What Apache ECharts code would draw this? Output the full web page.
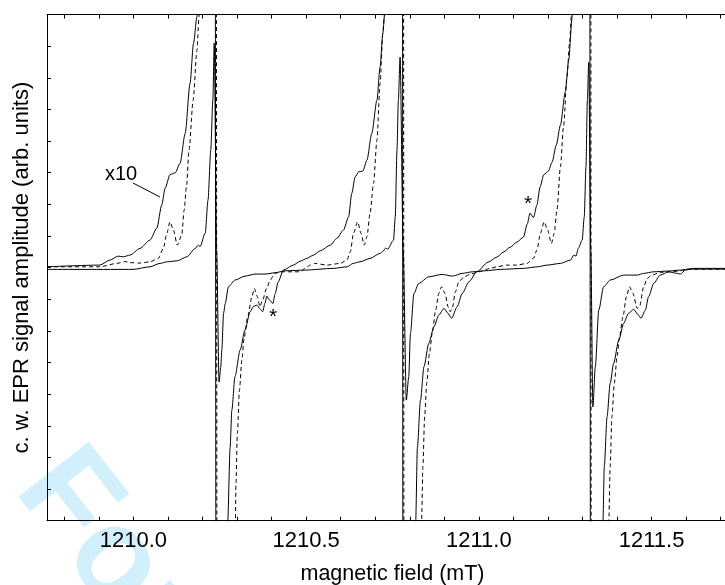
<!DOCTYPE html>
<html><head><meta charset="utf-8">
<script src="https://cdn.jsdelivr.net/npm/echarts@6/dist/echarts.min.js"></script>
<style>html,body{margin:0;padding:0;background:#fff}#c{width:725px;height:585px}</style>
</head><body><div id="c"></div>
<script>
// tick labels and minor tick positions (mT)
const xTickLabels = [1210.0, 1210.5, 1211.0, 1211.5];
const xMinorTicks = [1209.8,1209.9,1210.0,1210.1,1210.2,1210.3,1210.4,1210.5,1210.6,1210.7,1210.8,1210.9,1211.0,1211.1,1211.2,1211.3,1211.4,1211.5,1211.6,1211.7];

// c.w. EPR spectrum, x1 scale (solid)
const spectrumX1 = [
[1209.750,-0.057],[1209.999,-0.057],[1210.048,0.025],[1210.077,0.133],[1210.098,0.183],[1210.127,0.215],[1210.155,0.341],[1210.179,0.607],[1210.188,0.711],[1210.193,0.664],
[1210.208,1.09],[1210.216,2.133],[1210.224,3.713],[1210.230,5.293],[1210.234,7.094],[1210.241,0.553],[1210.248,-3.618],
[1210.253,-3.135],[1210.256,-2.607],[1210.261,-1.447],[1210.266,-1.131],[1210.275,-0.607],[1210.294,-0.395],[1210.323,-0.269],[1210.352,-0.205],[1210.381,-0.205],[1210.410,-0.164],[1210.439,-0.101],[1210.497,-0.079],[1210.578,-0.025],[1210.619,0.025],[1210.636,0.133],[1210.656,0.183],[1210.685,0.291],[1210.714,0.449],[1210.723,0.521],[1210.730,0.616],[1210.736,0.585],[1210.753,0.869],[1210.758,1.605],[1210.763,3.713],[1210.767,5.293],[1210.772,6.652],[1210.781,0.553],[1210.790,-4.187],
[1210.797,-3.451],[1210.802,-2.070],[1210.812,-0.815],[1210.826,-0.499],[1210.855,-0.291],[1210.894,-0.215],[1210.923,-0.269],[1210.952,-0.183],[1210.981,-0.133],[1211.018,-0.101],[1211.062,-0.057],[1211.129,-0.025],[1211.169,0.025],[1211.198,0.079],[1211.236,0.133],[1211.265,0.237],[1211.275,0.395],[1211.281,0.363],[1211.288,0.616],[1211.299,0.869],[1211.305,1.605],[1211.310,3.185],[1211.314,5.293],[1211.318,6.494],[1211.324,0.553],[1211.330,-4.408],
[1211.337,-3.135],[1211.347,-1.343],[1211.361,-0.607],[1211.380,-0.395],[1211.419,-0.237],[1211.458,-0.237],[1211.477,-0.183],[1211.506,-0.133],[1211.545,-0.111],[1211.583,-0.079],[1211.612,-0.047],[1211.750,-0.047]
];

// c.w. EPR spectrum, x10 scale (solid)
const spectrumX10 = [
[1209.750,0.025],[1209.903,0.079],[1209.932,0.237],[1209.956,0.363],[1209.971,0.341],[1209.990,0.395],[1210.019,0.607],[1210.048,0.869],[1210.068,1.248],[1210.082,1.975],[1210.092,2.512],[1210.106,2.939],[1210.121,2.996],[1210.135,3.293],[1210.150,4.241],[1210.164,5.821],[1210.174,7.085],[1210.184,7.925],[1210.193,10.5],[1210.237,10.5],[1210.239,-10.5],[1210.271,-10.5],
[1210.273,-8.058],[1210.280,-5.688],[1210.285,-4.503],[1210.294,-3.451],[1210.309,-2.607],[1210.323,-1.975],[1210.338,-1.397],[1210.347,-1.232],[1210.357,-1.185],[1210.367,-1.311],[1210.374,-1.397],[1210.381,-1.122],[1210.386,-0.901],[1210.394,-1.027],[1210.404,-1.131],[1210.410,-0.837],[1210.419,-0.458],[1210.434,-0.079],[1210.463,0.079],[1210.483,0.205],[1210.502,0.291],[1210.521,0.395],[1210.541,0.531],[1210.570,0.711],[1210.589,0.923],[1210.608,1.185],[1210.623,1.605],[1210.632,2.345],[1210.642,2.869],[1210.652,3.027],[1210.664,3.049],[1210.676,3.397],[1210.690,4.241],[1210.705,5.293],[1210.714,6.345],[1210.722,7.401],[1210.727,7.979],[1210.735,10.5],[1210.779,10.5],[1210.780,-10.5],[1210.816,-10.5],
[1210.817,-8.058],[1210.822,-5.688],[1210.831,-4.187],[1210.841,-3.135],[1210.855,-2.395],[1210.870,-1.871],[1210.884,-1.501],[1210.899,-1.289],[1210.910,-1.438],[1210.921,-1.605],[1210.937,-1.239],[1210.952,-0.815],[1210.971,-0.449],[1210.994,-0.133],[1211.027,0.174],[1211.052,0.332],[1211.071,0.490],[1211.091,0.648],[1211.110,0.806],[1211.129,0.964],[1211.140,1.375],[1211.148,1.722],[1211.158,1.580],[1211.168,1.975],[1211.177,2.544],[1211.188,2.939],[1211.201,3.049],[1211.212,3.334],[1211.224,3.871],[1211.236,4.503],[1211.250,5.546],[1211.260,6.557],[1211.270,7.925],[1211.276,10.5],[1211.321,10.5],[1211.323,-10.5],[1211.358,-10.5],
[1211.359,-8.058],[1211.363,-6.295],[1211.371,-4.715],[1211.380,-3.659],[1211.390,-3.027],[1211.405,-2.291],[1211.419,-1.763],[1211.433,-1.447],[1211.448,-1.321],[1211.462,-1.501],[1211.469,-1.605],[1211.482,-1.343],[1211.491,-0.923],[1211.506,-0.499],[1211.525,-0.237],[1211.549,-0.133],[1211.574,-0.183],[1211.583,-0.205],[1211.598,-0.079],[1211.622,-0.025],[1211.750,-0.025]
];

// simulated spectrum (dashed)
const spectrumSim = [
[1209.750,0.025],[1209.903,0.025],[1209.952,0.133],[1209.976,0.190],[1209.990,0.158],[1210.019,0.142],[1210.048,0.183],[1210.072,0.291],[1210.087,0.616],[1210.097,1.090],[1210.106,1.447],[1210.116,1.185],[1210.127,0.711],[1210.140,1.027],[1210.147,1.817],[1210.154,2.607],[1210.161,3.713],[1210.173,5.293],[1210.184,6.873],[1210.190,7.925],[1210.196,10.5],[1210.240,10.5],[1210.242,-10.5],[1210.293,-10.5],
[1210.295,-8.058],[1210.297,-6.819],[1210.301,-5.239],[1210.307,-3.871],[1210.314,-2.923],[1210.321,-2.187],[1210.331,-1.555],[1210.343,-0.923],[1210.350,-0.657],[1210.359,-0.923],[1210.366,-1.239],[1210.374,-1.027],[1210.386,-0.648],[1210.396,-0.395],[1210.410,-0.174],[1210.434,-0.133],[1210.483,-0.133],[1210.497,-0.025],[1210.512,0.079],[1210.526,0.133],[1210.560,0.079],[1210.599,0.133],[1210.618,0.237],[1210.628,0.499],[1210.637,1.081],[1210.649,1.447],[1210.659,1.081],[1210.668,0.711],[1210.676,0.973],[1210.685,1.713],[1210.695,2.661],[1210.705,4.029],[1210.714,5.821],[1210.722,7.401],[1210.727,8.033],[1210.732,10.5],[1210.782,10.5],[1210.783,-10.5],[1210.833,-10.5],
[1210.834,-8.058],[1210.838,-6.295],[1210.843,-4.715],[1210.849,-3.659],[1210.857,-2.711],[1210.865,-2.079],[1210.875,-1.343],[1210.884,-0.815],[1210.892,-0.607],[1210.902,-0.815],[1210.911,-1.239],[1210.917,-1.397],[1210.923,-1.289],[1210.932,-0.765],[1210.942,-0.449],[1210.957,-0.291],[1210.976,-0.205],[1211.000,-0.133],[1211.033,-0.025],[1211.052,0.025],[1211.081,0.079],[1211.110,0.079],[1211.139,0.133],[1211.158,0.291],[1211.168,0.553],[1211.178,1.081],[1211.189,1.447],[1211.199,1.185],[1211.210,0.765],[1211.218,1.081],[1211.226,1.817],[1211.236,3.185],[1211.245,4.449],[1211.255,6.029],[1211.263,7.189],[1211.268,7.979],[1211.273,10.5],[1211.324,10.5],[1211.325,-10.5],[1211.375,-10.5],
[1211.376,-8.058],[1211.380,-6.295],[1211.385,-4.715],[1211.392,-3.659],[1211.400,-2.819],[1211.407,-2.187],[1211.417,-1.555],[1211.427,-0.923],[1211.436,-0.607],[1211.446,-0.815],[1211.458,-1.289],[1211.465,-1.239],[1211.477,-0.607],[1211.487,-0.341],[1211.501,-0.237],[1211.525,-0.152],[1211.554,-0.133],[1211.583,-0.101],[1211.603,-0.047],[1211.750,-0.047]
];

const FONT = '"Liberation Sans", Arial, Helvetica, sans-serif';
const chart = echarts.init(document.getElementById('c'), null, {renderer: 'canvas'});
const axisLine = {show: true, onZero: false, lineStyle: {color: '#000', width: 1}};
function xAx(pos, labels) {
  return {
    type: 'value', position: pos, min: 1209.75, max: 1211.75,
    axisLine: axisLine,
    axisTick: {show: true, inside: true, length: 4, customValues: xMinorTicks, lineStyle: {color: '#000', width: 1}},
    axisLabel: labels ? {show: true, customValues: xTickLabels, formatter: v => v.toFixed(1), fontFamily: FONT, fontSize: 22, color: '#000', margin: 9} : {show: false},
    splitLine: {show: false},
    name: labels ? 'magnetic field (mT)' : '', nameLocation: 'middle', nameGap: 42,
    nameTextStyle: {fontFamily: FONT, fontSize: 21.5, color: '#000'}
  };
}
const lineBase = {type: 'line', showSymbol: false, symbol: 'none', smooth: 0.25, smoothMonotone: 'x', clip: true, animation: false, z: 3};
chart.setOption({
  animation: false,
  backgroundColor: '#fff',
  grid: {left: 47, top: 14.5, right: -13, bottom: 64.3, containLabel: false, outerBoundsMode: 'none'},
  xAxis: [xAx('bottom', true), xAx('top', false)],
  yAxis: {
    type: 'value', min: -8, max: 8, interval: 1,
    axisLine: axisLine,
    axisTick: {show: true, inside: true, length: 4, lineStyle: {color: '#000', width: 1}},
    axisLabel: {show: false}, splitLine: {show: false},
    name: 'c. w. EPR signal amplitude (arb. units)', nameLocation: 'middle', nameGap: 14,
    nameTextStyle: {fontFamily: FONT, fontSize: 22, color: '#000'}
  },
  graphic: [
    {type: 'text', x: -10, y: 508, rotation: -0.9076, z: -10, silent: true,
     style: {text: 'For Peer Review', font: 'bold 130px ' + FONT, fill: '#d2f0fc', textVerticalAlign: 'bottom'}},
    {type: 'text', x: 121, y: 174, z: 10, style: {text: 'x10', font: '20px ' + FONT, fill: '#000', textAlign: 'center', textVerticalAlign: 'middle'}},
    {type: 'line', z: 10, shape: {x1: 133, y1: 183, x2: 160, y2: 197}, style: {stroke: '#000', lineWidth: 1}},
    {type: 'text', x: 273, y: 317, z: 10, style: {text: '*', font: '21px ' + FONT, fill: '#000', textAlign: 'center', textVerticalAlign: 'middle'}},
    {type: 'text', x: 528, y: 204, z: 10, style: {text: '*', font: '21px ' + FONT, fill: '#000', textAlign: 'center', textVerticalAlign: 'middle'}}
  ],
  series: [
    Object.assign({}, lineBase, {name: 'x1', data: spectrumX1, lineStyle: {color: '#000', width: 1}}),
    Object.assign({}, lineBase, {name: 'x10', data: spectrumX10, lineStyle: {color: '#000', width: 1}}),
    Object.assign({}, lineBase, {name: 'sim', data: spectrumSim, lineStyle: {color: '#000', width: 1, type: [4, 3]}})
  ]
});
</script>
</body></html>
